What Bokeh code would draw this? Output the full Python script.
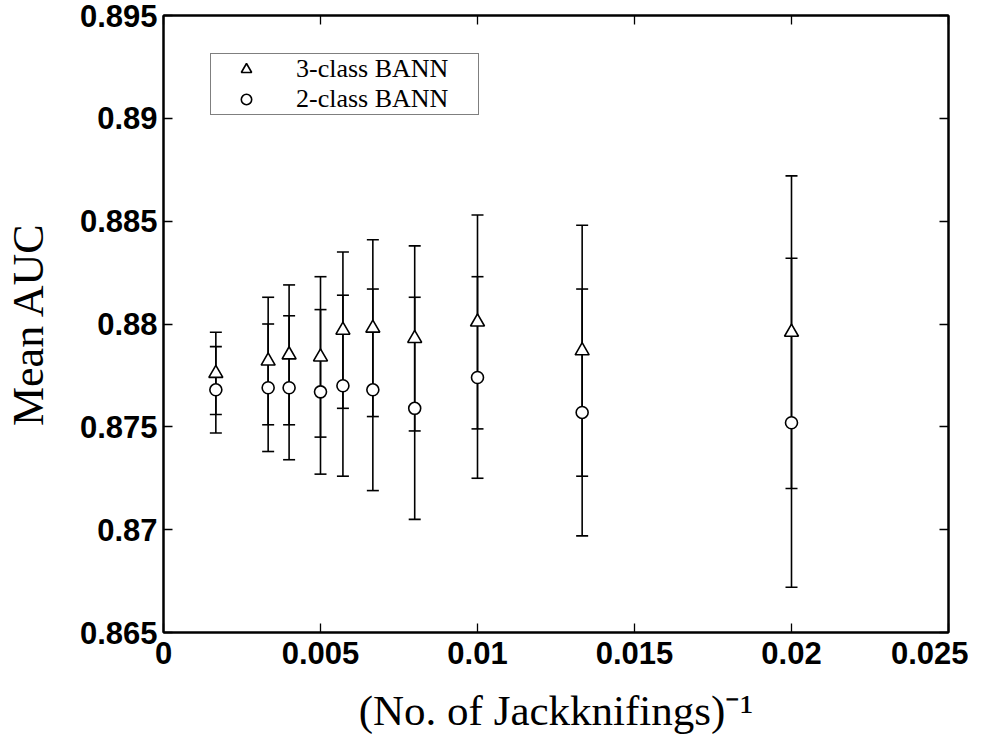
from bokeh.plotting import figure
from bokeh.models import (Whisker, TeeHead, ColumnDataSource, LinearAxis, FixedTicker,
                          Legend, LegendItem, Range1d, CustomJSTickFormatter)
from bokeh.embed import file_html
from bokeh.resources import INLINE

# ---- data ----
x_vals = [0.001667, 0.003333, 0.004, 0.005, 0.005714, 0.006667, 0.008, 0.01, 0.013333, 0.02]
auc_3class = [0.8776, 0.8782, 0.8785, 0.8784, 0.8797, 0.8798, 0.8793, 0.8801, 0.8787, 0.8796]
err_3class = [0.0020, 0.0031, 0.0034, 0.0039, 0.0038, 0.0043, 0.0045, 0.0052, 0.0061, 0.0076]
auc_2class = [0.8768, 0.8769, 0.8769, 0.8767, 0.8770, 0.8768, 0.8759, 0.8774, 0.8757, 0.8752]
err_2class = [0.0021, 0.0031, 0.0035, 0.0040, 0.0044, 0.0049, 0.0054, 0.0049, 0.0060, 0.0080]

x_ticks = [0, 0.005, 0.01, 0.015, 0.02, 0.025]
x_tick_labels = ["0", "0.005", "0.01", "0.015", "0.02", "0.025"]
y_ticks = [0.865, 0.87, 0.875, 0.88, 0.885, 0.89, 0.895]
y_tick_labels = ["0.865", "0.87", "0.875", "0.88", "0.885", "0.89", "0.895"]

series_labels = ["3-class BANN", "2-class BANN"]
x_label = "(No. of Jackknifings)\u207b\u00b9"
y_label = "Mean AUC"

# ---- sources ----
src3 = ColumnDataSource(dict(
    x=x_vals, y=auc_3class,
    upper=[m + e for m, e in zip(auc_3class, err_3class)],
    lower=[m - e for m, e in zip(auc_3class, err_3class)]))
src2 = ColumnDataSource(dict(
    x=x_vals, y=auc_2class,
    upper=[m + e for m, e in zip(auc_2class, err_2class)],
    lower=[m - e for m, e in zip(auc_2class, err_2class)]))

p = figure(frame_width=785, frame_height=617, output_backend="svg", toolbar_location=None,
           x_range=Range1d(0, 0.025), y_range=Range1d(0.865, 0.895),
           min_border_left=163, min_border_top=15, min_border_right=20, min_border_bottom=10)
p.xgrid.visible = False
p.ygrid.visible = False
p.outline_line_color = "black"
p.outline_line_width = 2
p.background_fill_color = "white"
p.border_fill_color = "white"

tick_font = "Liberation Sans"
label_font = "Liberation Serif"

def style_axis(ax, show_labels):
    ax.axis_line_color = "black"
    ax.axis_line_width = 2
    ax.major_tick_in = 9
    ax.major_tick_out = 0
    ax.major_tick_line_color = "black"
    ax.major_tick_line_width = 1.3
    ax.minor_tick_line_color = None
    if show_labels:
        ax.major_label_text_font = tick_font
        ax.major_label_text_font_style = "bold"
        ax.major_label_text_font_size = "31px"
        ax.major_label_text_color = "black"
    else:
        ax.formatter = CustomJSTickFormatter(code="return '';")
        ax.major_label_standoff = 0

# bottom axis
xa = p.xaxis[0]
xa.ticker = FixedTicker(ticks=x_ticks)
xa.major_label_overrides = {t: l for t, l in zip(x_ticks, x_tick_labels)}
style_axis(xa, True)
xa.major_label_standoff = 9
xa.axis_label = x_label
xa.axis_label_text_font = label_font
xa.axis_label_text_font_style = "normal"
xa.axis_label_text_font_size = "43px"
xa.axis_label_text_color = "black"
xa.axis_label_standoff = 20

# left axis
ya = p.yaxis[0]
ya.ticker = FixedTicker(ticks=y_ticks)
ya.major_label_overrides = {t: l for t, l in zip(y_ticks, y_tick_labels)}
style_axis(ya, True)
ya.major_label_standoff = 6
ya.axis_label = y_label
ya.axis_label_text_font = label_font
ya.axis_label_text_font_style = "normal"
ya.axis_label_text_font_size = "44px"
ya.axis_label_text_color = "black"
ya.axis_label_standoff = 24

# top & right axes (ticks only)
top_ax = LinearAxis(ticker=FixedTicker(ticks=x_ticks))
style_axis(top_ax, False)
p.add_layout(top_ax, "above")
right_ax = LinearAxis(ticker=FixedTicker(ticks=y_ticks))
style_axis(right_ax, False)
p.add_layout(right_ax, "right")

# error bars
for src in (src3, src2):
    w = Whisker(source=src, base="x", upper="upper", lower="lower", dimension="height",
                line_color="black", line_width=1.6,
                upper_head=TeeHead(size=12, line_color="black", line_width=1.6),
                lower_head=TeeHead(size=12, line_color="black", line_width=1.6))
    p.add_layout(w)

r3 = p.scatter("x", "y", source=src3, marker="triangle", size=14, fill_color="white",
               line_color="black", line_width=1.6)
r2 = p.scatter("x", "y", source=src2, marker="circle", size=12, fill_color="white",
               line_color="black", line_width=1.6)

legend = Legend(items=[LegendItem(label=series_labels[0], renderers=[r3]),
                       LegendItem(label=series_labels[1], renderers=[r2])],
                location=(47, 517), margin=0, padding=0, spacing=0,
                glyph_width=70, glyph_height=26, label_height=26, label_standoff=15,
                label_width=182,
                label_text_font=label_font, label_text_font_size="26px",
                label_text_color="black", label_text_baseline="middle",
                border_line_color="black", border_line_width=1.3,
                background_fill_color="white", background_fill_alpha=1.0)
p.add_layout(legend)

open("out.html", "w").write(file_html(p, INLINE))
